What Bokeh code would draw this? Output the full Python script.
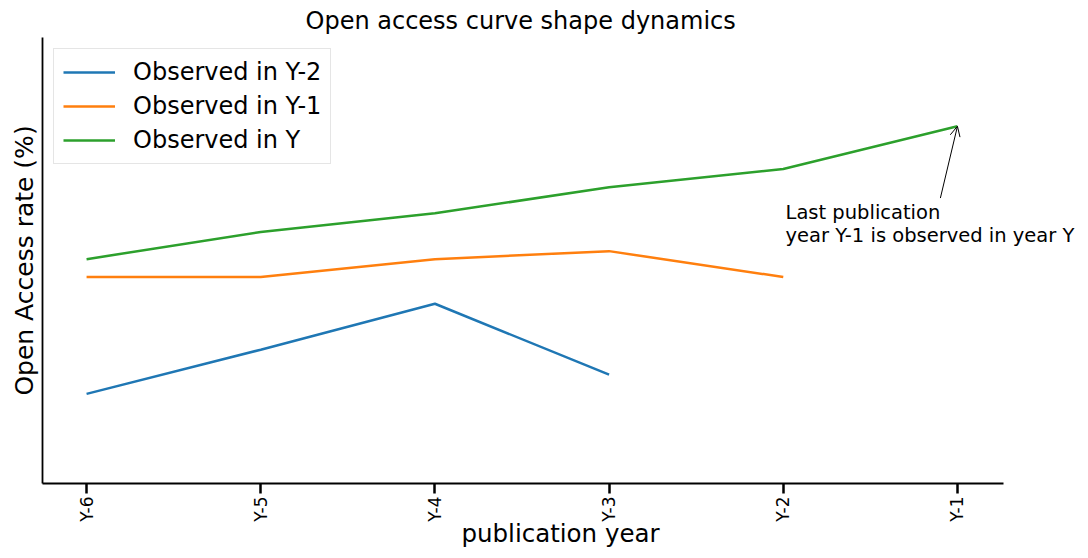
import math
from bokeh.plotting import figure
from bokeh.models import Legend, LegendItem, Label, Arrow, OpenHead, FixedTicker
from bokeh.embed import file_html
from bokeh.resources import INLINE

# ---- data ----
tick_positions = [-6, -5, -4, -3, -2, -1]
tick_labels = ["Y-6", "Y-5", "Y-4", "Y-3", "Y-2", "Y-1"]

years_y2 = [-6, -5, -4, -3]
oa_y2 = [20.1, 30.0, 40.3, 24.4]

years_y1 = [-6, -5, -4, -3, -2]
oa_y1 = [46.3, 46.3, 50.3, 52.1, 46.3]

years_y = [-6, -5, -4, -3, -2, -1]
oa_y = [50.3, 56.4, 60.6, 66.4, 70.5, 80.1]

series_names = ["Observed in Y-2", "Observed in Y-1", "Observed in Y"]
colors = ["#1f77b4", "#ff7f0e", "#2ca02c"]

FONT = "DejaVu Sans"

X_LO, X_AXIS_HI, X_FRAME_HI = -6.253, -0.736, -0.305

p = figure(width=1080, height=550, output_backend="svg", toolbar_location=None,
           x_range=(X_LO, X_FRAME_HI), y_range=(0, 100),
           min_border_left=42, min_border_right=2, min_border_top=37, min_border_bottom=60)

p.title.text = "Open access curve shape dynamics"
p.title.align = "left"
p.title.offset = 263
p.title.standoff = 6
p.title.text_font = FONT
p.title.text_font_size = "24px"
p.title.text_font_style = "normal"
p.title.text_color = "black"

p.grid.visible = False
p.outline_line_color = None
p.background_fill_color = "white"

# x axis
p.xaxis.bounds = (X_LO, X_AXIS_HI)
p.xaxis.ticker = FixedTicker(ticks=tick_positions)
p.xaxis.major_label_overrides = {t: l for t, l in zip(tick_positions, tick_labels)}
p.xaxis.major_label_orientation = math.pi / 2
p.xaxis.major_label_text_font = FONT
p.xaxis.major_label_text_font_size = "17px"
p.xaxis.major_label_text_color = "black"
p.xaxis.minor_tick_line_color = None
p.xaxis.major_tick_in = 0
p.xaxis.major_tick_out = 10
p.xaxis.major_tick_line_width = 2.5
p.xaxis.axis_line_width = 1.8
p.xaxis.axis_label = "publication year"
p.xaxis.axis_label_text_font = FONT
p.xaxis.axis_label_text_font_size = "24.5px"
p.xaxis.axis_label_text_font_style = "normal"
p.xaxis.axis_label_text_color = "black"
p.xaxis.axis_label_text_line_height = 1.0
p.xaxis.axis_label_standoff = -6
p.xaxis.major_label_standoff = 3

# y axis
p.yaxis.ticker = FixedTicker(ticks=[])
p.yaxis.minor_tick_line_color = None
p.yaxis.major_tick_line_color = None
p.yaxis.axis_line_width = 1.8
p.yaxis.axis_label = "Open Access rate (%)"
p.yaxis.axis_label_text_font = FONT
p.yaxis.axis_label_text_font_size = "25px"
p.yaxis.axis_label_text_font_style = "normal"
p.yaxis.axis_label_text_color = "black"
p.yaxis.axis_label_standoff = 4

r1 = p.line(years_y2, oa_y2, line_color=colors[0], line_width=2.5)
r2 = p.line(years_y1, oa_y1, line_color=colors[1], line_width=2.5)
r3 = p.line(years_y, oa_y, line_color=colors[2], line_width=2.5)

legend = Legend(items=[LegendItem(label=series_names[0], renderers=[r1]),
                       LegendItem(label=series_names[1], renderers=[r2]),
                       LegendItem(label=series_names[2], renderers=[r3])],
                location="top_left", margin=11,
                label_text_font=FONT, label_text_font_size="24px",
                label_text_color="black",
                glyph_width=52, label_standoff=18, spacing=6, padding=9,
                border_line_color="#cccccc", border_line_width=1,
                background_fill_alpha=0.8)
p.add_layout(legend)

# annotation
p.add_layout(Label(x=-1.987, y=60.85, text="Last publication", text_font=FONT,
                   text_font_size="19.5px", text_baseline="middle", text_align="left",
                   text_color="black"))
p.add_layout(Label(x=-1.987, y=55.7, text="year Y-1 is observed in year Y", text_font=FONT,
                   text_font_size="19.5px", text_baseline="middle", text_align="left",
                   text_color="black"))
p.add_layout(Arrow(x_start=-1.098, y_start=64.0, x_end=-1.0, y_end=80.1,
                   line_color="black", line_width=1,
                   end=OpenHead(size=10, line_color="black", line_width=1)))

open("out.html", "w").write(file_html(p, INLINE))
